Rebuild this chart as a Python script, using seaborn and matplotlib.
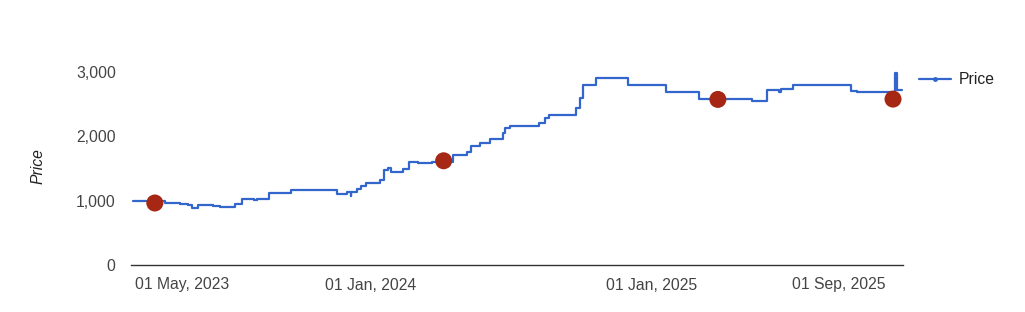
import matplotlib
matplotlib.use("Agg")
import matplotlib.pyplot as plt
import seaborn as sns
import pandas as pd
from matplotlib.ticker import FuncFormatter
from matplotlib.lines import Line2D

# ---- data ----
dates = [
    "2023-02-25", "2023-04-08", "2023-04-28", "2023-05-08", "2023-05-14",
    "2023-05-21", "2023-06-10", "2023-06-19", "2023-07-09", "2023-07-17",
    "2023-08-02", "2023-08-06", "2023-08-21", "2023-09-19", "2023-11-18",
    "2023-12-01", "2023-12-06", "2023-12-07", "2023-12-14", "2023-12-20",
    "2023-12-26", "2024-01-13", "2024-01-18", "2024-01-23", "2024-01-27",
    "2024-02-12", "2024-02-20", "2024-03-02", "2024-03-21", "2024-04-17",
    "2024-05-05", "2024-05-10", "2024-05-22", "2024-06-05", "2024-06-21",
    "2024-06-24", "2024-07-01", "2024-08-07", "2024-08-15", "2024-08-20",
    "2024-09-07", "2024-09-14", "2024-09-24", "2024-09-29", "2024-10-04",
    "2024-10-20", "2024-12-01", "2025-01-20", "2025-03-03", "2025-05-11",
    "2025-05-31", "2025-06-15", "2025-06-18", "2025-07-04", "2025-09-17",
    "2025-09-25", "2025-11-13", "2025-11-16", "2025-11-23",
]
prices = [
    1000, 960, 950, 935, 890,
    937, 920, 905, 944, 1027,
    1005, 1027, 1125, 1166, 1100,
    1135, 1080, 1135, 1177, 1233,
    1270, 1322, 1477, 1504, 1451,
    1488, 1607, 1592, 1607, 1711,
    1762, 1851, 1893, 1955, 2048,
    2126, 2166, 2213, 2281, 2333,
    2340, 2328, 2437, 2592, 2799,
    2903, 2799, 2695, 2577, 2555,
    2722, 2700, 2732, 2799, 2706,
    2695, 2990, 2722, 2722,
]
event_dates = ["2023-03-26", "2024-04-05", "2025-03-28", "2025-11-11"]
event_prices = [965, 1622, 2577, 2582]

tick_dates = ["2023-05-01", "2024-01-01", "2025-01-01", "2025-09-01"]
tick_labels = ["01 May, 2023", "01 Jan, 2024", "01 Jan, 2025", "01 Sep, 2025"]
y_ticks = [0, 1000, 2000, 3000]

df = pd.DataFrame({"Date": pd.to_datetime(dates), "Price": prices})
ev = pd.DataFrame({"Date": pd.to_datetime(event_dates), "Price": event_prices})

sns.set_style("white")
plt.rcParams["font.family"] = ["Liberation Sans", "DejaVu Sans"]

LINE = "#3366cc"
fig = plt.figure(figsize=(10.25, 3.12), dpi=100)
ax = fig.add_axes([131 / 1025, 47 / 312, 772 / 1025, 257 / 312])

sns.lineplot(data=df, x="Date", y="Price", ax=ax, color=LINE,
             linewidth=1.6, drawstyle="steps-post", legend=False)
sns.scatterplot(data=ev, x="Date", y="Price", ax=ax, color="#a52714",
                s=150, edgecolor="none", zorder=5, legend=False)

ax.set_xlim(pd.Timestamp("2023-02-23"), pd.Timestamp("2025-11-24"))
ax.set_ylim(0, 4000)
ax.set_yticks(y_ticks)
ax.yaxis.set_major_formatter(FuncFormatter(lambda v, p: f"{int(v):,}"))
ax.set_xticks(pd.to_datetime(tick_dates))
ax.set_xticklabels(tick_labels)

for s in ["top", "right", "left"]:
    ax.spines[s].set_visible(False)
ax.spines["bottom"].set_color("#333333")
ax.spines["bottom"].set_linewidth(1.0)
ax.tick_params(axis="both", length=0, labelsize=11.3, colors="#444444")
ax.tick_params(axis="x", pad=9)
ax.tick_params(axis="y", pad=11)
ax.set_xlabel("")
ax.set_ylabel("Price", fontsize=11.3, fontstyle="italic", color="#222222")
ax.yaxis.set_label_coords((46 - 131) / 772, (265 - 166) / 257)
ax.grid(False)

handle = Line2D([0, 1, 2], [0, 0, 0], color=LINE, linewidth=1.6,
                marker="o", markersize=2.5, markevery=[1])
leg = fig.legend([handle], ["Price"], loc="center left",
                 bbox_to_anchor=(905 / 1025, 1 - 80 / 312),
                 frameon=False, fontsize=11.3, handlelength=2.0,
                 handletextpad=0.55)
for t in leg.get_texts():
    t.set_color("#222222")

fig.savefig("out.png", dpi=100)
